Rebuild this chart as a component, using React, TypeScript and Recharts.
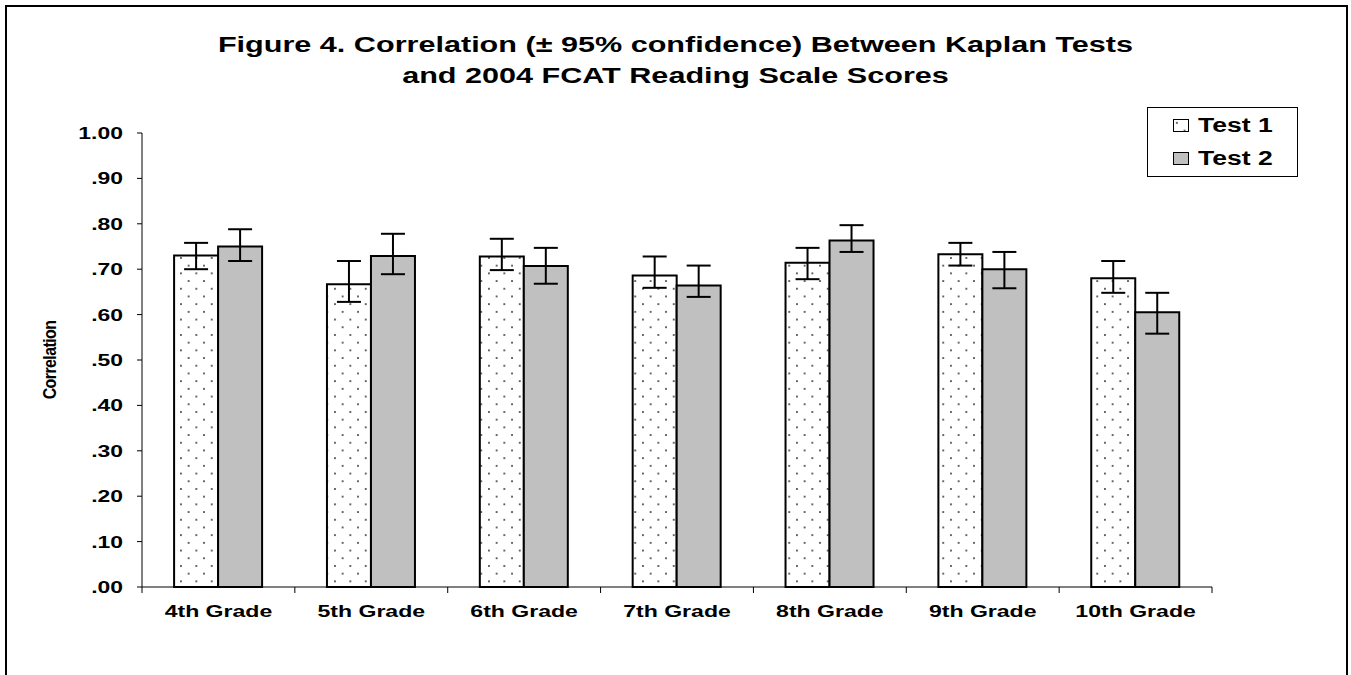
import { BarChart, Bar, XAxis, YAxis, ErrorBar, Legend } from "recharts";

const grades = [
  "4th Grade",
  "5th Grade",
  "6th Grade",
  "7th Grade",
  "8th Grade",
  "9th Grade",
  "10th Grade",
];

// correlation plus the 95% confidence bounds
const test1 = [0.73, 0.667, 0.728, 0.686, 0.714, 0.733, 0.68];
const test1Low = [0.7, 0.628, 0.698, 0.659, 0.678, 0.708, 0.648];
const test1High = [0.758, 0.718, 0.767, 0.728, 0.747, 0.758, 0.718];

const test2 = [0.75, 0.729, 0.707, 0.664, 0.763, 0.7, 0.605];
const test2Low = [0.718, 0.689, 0.668, 0.639, 0.738, 0.658, 0.558];
const test2High = [0.788, 0.778, 0.747, 0.708, 0.797, 0.738, 0.648];

const yTicks = [0, 0.1, 0.2, 0.3, 0.4, 0.5, 0.6, 0.7, 0.8, 0.9, 1];

const series = [
  { key: "test1", name: "Test 1", fill: "url(#dots)" },
  { key: "test2", name: "Test 2", fill: "#c0c0c0" },
];

const data = grades.map((g, i) => ({
  grade: g,
  test1: test1[i],
  test2: test2[i],
  err1: [test1[i] - test1Low[i], test1High[i] - test1[i]],
  err2: [test2[i] - test2Low[i], test2High[i] - test2[i]],
}));

const FONT = '"Liberation Sans", Arial, sans-serif';
const STRETCH = 1.39; // the original figure is stretched sideways

function fmtTick(v: number) {
  const s = v.toFixed(2);
  return s.startsWith("0") ? s.slice(1) : s;
}

function CorrTick({ x, y, payload }: any) {
  return (
    <text
      transform={`translate(${x},${y}) scale(${STRETCH},1)`}
      textAnchor="end"
      dy="0.36em"
      fontFamily={FONT}
      fontWeight="bold"
      fontSize={16.5}
      fill="#000"
    >
      {fmtTick(payload.value)}
    </text>
  );
}

function GradeTick({ x, y, payload, index }: any) {
  const half = payload?.offset ?? 76.4;
  const last = index === grades.length - 1;
  return (
    <g>
      <line x1={x - half} y1={y} x2={x - half} y2={y + 6} stroke="#000" />
      {last && <line x1={x + half} y1={y} x2={x + half} y2={y + 6} stroke="#000" />}
      <text
        transform={`translate(${x},${y + 30}) scale(${STRETCH},1)`}
        textAnchor="middle"
        fontFamily={FONT}
        fontWeight="bold"
        fontSize={16.6}
        fill="#000"
      >
        {payload.value}
      </text>
    </g>
  );
}

function CorrLabel(props: any) {
  const vb = props?.viewBox ?? { x: 62, y: 133, width: 80, height: 454 };
  const cy = vb.y + vb.height / 2;
  return (
    <text
      transform={`translate(${vb.x - 6},${cy}) scale(1.2,1) rotate(-90)`}
      textAnchor="middle"
      fontFamily={FONT}
      fontWeight="bold"
      fontSize={16}
      letterSpacing={-0.6}
      fill="#000"
    >
      Correlation
    </text>
  );
}

function LegendBox() {
  return (
    <div
      style={{
        width: 151,
        height: 70,
        boxSizing: "border-box",
        border: "1px solid #000",
        background: "#fff",
        position: "relative",
      }}
    >
      {series.map((s, i) => (
        <div
          key={s.key}
          style={{
            position: "absolute",
            left: 25,
            top: 6 + i * 33,
            height: 22,
            display: "flex",
            alignItems: "center",
          }}
        >
          <svg width={16} height={13} style={{ display: "block" }}>
            <rect x={0.5} y={0.5} width={15} height={12} fill={s.fill} stroke="#000" strokeWidth={1} />
          </svg>
          <span
            style={{
              marginLeft: 9,
              fontFamily: FONT,
              fontWeight: "bold",
              fontSize: 19.5,
              display: "inline-block",
              transform: `scaleX(1.36)`,
              transformOrigin: "left center",
              whiteSpace: "nowrap",
            }}
          >
            {s.name}
          </span>
        </div>
      ))}
    </div>
  );
}

const titleLine = {
  position: "absolute" as const,
  left: 0,
  width: 1351,
  textAlign: "center" as const,
  fontFamily: FONT,
  fontWeight: "bold" as const,
  fontSize: 22,
  lineHeight: "31px",
  transform: `scaleX(${STRETCH})`,
  transformOrigin: "675.5px 50%",
  whiteSpace: "nowrap" as const,
};

export default function App() {
  return (
    <div
      style={{
        position: "absolute",
        left: 0,
        top: 0,
        width: 1351,
        height: 675,
        background: "#fff",
        overflow: "hidden",
      }}
    >
      {/* dotted fill used by Test 1 bars and legend */}
      <svg width={0} height={0} style={{ position: "absolute" }}>
        <defs>
          <pattern id="dots" patternUnits="userSpaceOnUse" width={15.4} height={15.4}>
            <rect width={15.4} height={15.4} fill="#fff" />
            <circle cx={3.85} cy={3.85} r={1} fill="#333" />
            <circle cx={11.55} cy={11.55} r={1} fill="#333" />
          </pattern>
        </defs>
      </svg>

      {/* outer frame */}
      <div
        style={{
          position: "absolute",
          left: 5,
          top: 5,
          width: 1343,
          height: 700,
          boxSizing: "border-box",
          border: "2px solid #000",
        }}
      />

      <div style={{ ...titleLine, top: 29 }}>
        Figure 4. Correlation (± 95% confidence) Between Kaplan Tests
      </div>
      <div style={{ ...titleLine, top: 60 }}>and 2004 FCAT Reading Scale Scores</div>

      <div style={{ position: "absolute", left: 0, top: 0 }}>
        <BarChart
          width={1351}
          height={675}
          data={data}
          margin={{ top: 133, right: 139, bottom: 58, left: 62 }}
          barCategoryGap="21%"
          barGap={0}
        >
          <XAxis
            dataKey="grade"
            height={30}
            interval={0}
            tickSize={0}
            tickMargin={0}
            tickLine={false}
            axisLine={{ stroke: "#000" }}
            tick={<GradeTick />}
          />
          <YAxis
            width={80}
            domain={[0, 1]}
            ticks={yTicks}
            interval={0}
            tickSize={5}
            tickMargin={14}
            axisLine={{ stroke: "#000" }}
            tickLine={{ stroke: "#000" }}
            tick={<CorrTick />}
            label={<CorrLabel />}
          />
          <Legend
            layout="horizontal"
            verticalAlign="middle"
            align="center"
            wrapperStyle={{ left: 1147, top: 107, width: 151, height: 70 }}
            content={() => <LegendBox />}
          />
          <Bar
            dataKey="test1"
            name="Test 1"
            fill="url(#dots)"
            stroke="#000"
            strokeWidth={2}
            isAnimationActive={false}
          >
            <ErrorBar dataKey="err1" direction="y" width={12} stroke="#000" strokeWidth={2} />
          </Bar>
          <Bar
            dataKey="test2"
            name="Test 2"
            fill="#c0c0c0"
            stroke="#000"
            strokeWidth={2}
            isAnimationActive={false}
          >
            <ErrorBar dataKey="err2" direction="y" width={12} stroke="#000" strokeWidth={2} />
          </Bar>
        </BarChart>
      </div>
    </div>
  );
}
